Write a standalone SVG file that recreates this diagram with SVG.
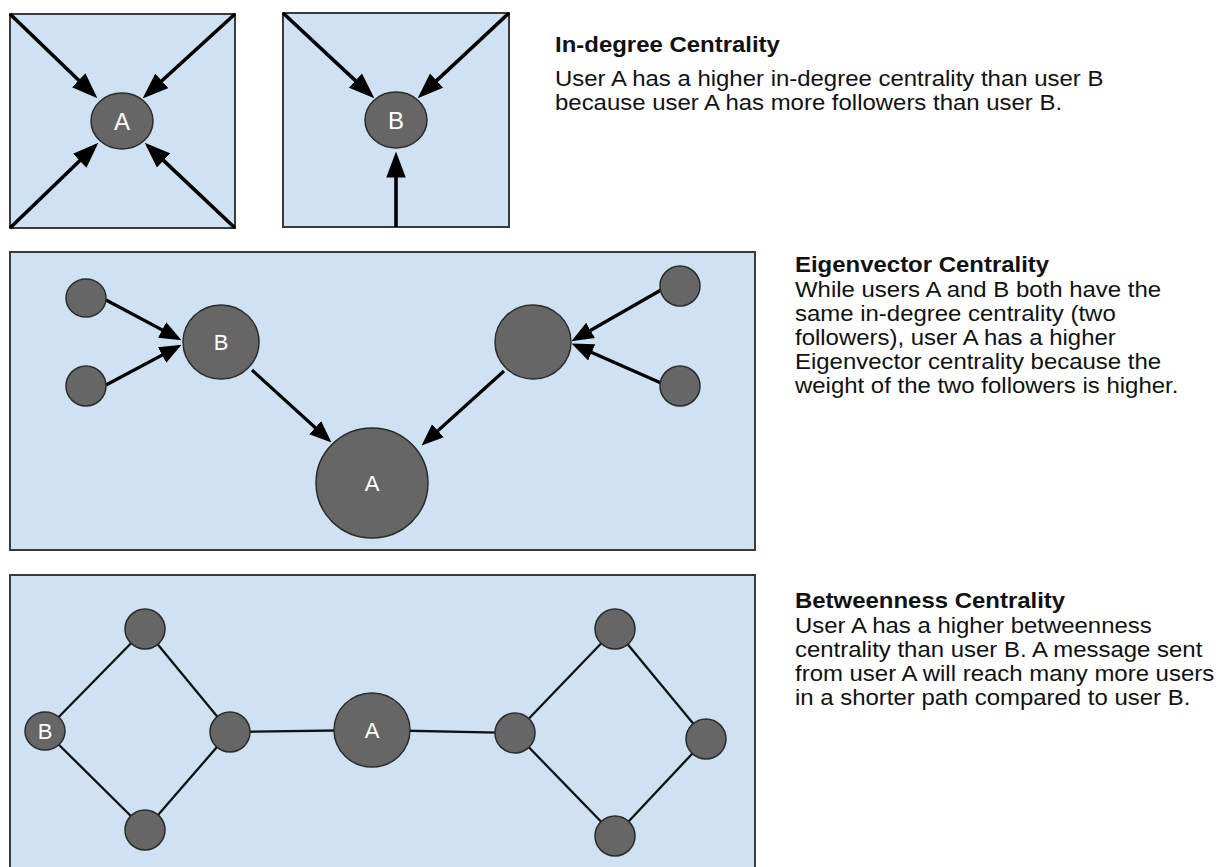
<svg xmlns="http://www.w3.org/2000/svg" width="1228" height="867" viewBox="0 0 1228 867">
<style>
.bg{fill:#ffffff}
.box{fill:#cfe2f3;stroke:#3a3a3a;stroke-width:2}
.node{fill:#666666;stroke:#2b2b2b;stroke-width:1.5}
.lbl{fill:#ffffff;font-family:"Liberation Sans",Arial,sans-serif;font-size:22px;text-anchor:middle;dominant-baseline:central}
.big{font-size:24px}
.arr{stroke:#000;stroke-width:3.2;fill:none;marker-end:url(#ah)}
.arrL{stroke:#000;stroke-width:3.6;fill:none;marker-end:url(#ahL)}
.edge{stroke:#111;stroke-width:2.3;fill:none}
.t{font-family:"Liberation Sans",Arial,sans-serif;font-size:21.2px;fill:#111}
.h{font-weight:bold}
</style>
<defs>
<marker id="ah" markerUnits="userSpaceOnUse" markerWidth="22" markerHeight="18" viewBox="0 0 20 16" refX="14" refY="8" orient="auto">
<path d="M0,0 L20,8 L0,16 z" fill="#000"/>
</marker>
<marker id="ahL" markerUnits="userSpaceOnUse" markerWidth="26" markerHeight="20" viewBox="0 0 24 18" refX="18" refY="9" orient="auto">
<path d="M0,0 L24,9 L0,18 z" fill="#000"/>
</marker>
</defs>
<rect class="bg" x="0" y="0" width="1228" height="867"/>
<g id="frames">
<rect class="box" x="10" y="14" width="225" height="214"/>
<rect class="box" x="283" y="13" width="226" height="214"/>
<rect class="box" x="10" y="252" width="745" height="298"/>
<rect class="box" x="10" y="575" width="745" height="310"/>
</g>
<g id="connectors">
<line class="arrL" x1="10" y1="14" x2="92.7" y2="93.8"/>
<line class="arrL" x1="235" y1="14" x2="147.4" y2="94"/>
<line class="arrL" x1="10" y1="228" x2="93.7" y2="147.2"/>
<line class="arrL" x1="235" y1="228" x2="149.4" y2="147.1"/>
<line class="arrL" x1="283" y1="13" x2="369.6" y2="93.9"/>
<line class="arrL" x1="509" y1="13" x2="422.4" y2="93.9"/>
<line class="arrL" x1="396" y1="227" x2="396" y2="158"/>
<line class="arr" x1="106" y1="300" x2="175.7" y2="337.2"/>
<line class="arr" x1="106" y1="385" x2="175.7" y2="347.8"/>
<line class="arr" x1="252" y1="370" x2="326.6" y2="438"/>
<line class="arr" x1="504" y1="371" x2="426.5" y2="441"/>
<line class="arr" x1="661" y1="290" x2="577.2" y2="338"/>
<line class="arr" x1="661" y1="383" x2="577.6" y2="346.2"/>
<line class="edge" x1="45" y1="731" x2="145" y2="629"/>
<line class="edge" x1="45" y1="731" x2="145" y2="830"/>
<line class="edge" x1="145" y1="629" x2="230" y2="732"/>
<line class="edge" x1="145" y1="830" x2="230" y2="732"/>
<line class="edge" x1="230" y1="732" x2="372" y2="730"/>
<line class="edge" x1="372" y1="730" x2="515" y2="733"/>
<line class="edge" x1="515" y1="733" x2="615" y2="629"/>
<line class="edge" x1="515" y1="733" x2="615" y2="836"/>
<line class="edge" x1="615" y1="629" x2="706" y2="739"/>
<line class="edge" x1="615" y1="836" x2="706" y2="739"/>
</g>
<g id="indeg-a"><ellipse class="node" cx="122" cy="121" rx="31" ry="28"/><text class="lbl big" x="122" y="121">A</text></g>
<g id="indeg-b"><ellipse class="node" cx="396" cy="120" rx="31" ry="28"/><text class="lbl big" x="396" y="120">B</text></g>
<g id="eig-f1"><ellipse class="node" cx="86" cy="298" rx="20" ry="19"/></g>
<g id="eig-f2"><ellipse class="node" cx="86" cy="386" rx="20" ry="20"/></g>
<g id="eig-b"><ellipse class="node" cx="221" cy="342" rx="38" ry="37"/><text class="lbl" x="221" y="342">B</text></g>
<g id="eig-a"><ellipse class="node" cx="372" cy="483" rx="56" ry="55"/><text class="lbl" x="372" y="483">A</text></g>
<g id="eig-c"><ellipse class="node" cx="533" cy="342" rx="38" ry="37"/></g>
<g id="eig-f3"><ellipse class="node" cx="680" cy="286" rx="20" ry="20"/></g>
<g id="eig-f4"><ellipse class="node" cx="680" cy="386" rx="20" ry="20"/></g>
<g id="bt-b"><ellipse class="node" cx="45" cy="731" rx="20" ry="19"/><text class="lbl" x="45" y="731">B</text></g>
<g id="bt-tl"><ellipse class="node" cx="145" cy="629" rx="20" ry="20"/></g>
<g id="bt-bl"><ellipse class="node" cx="145" cy="830" rx="20" ry="20"/></g>
<g id="bt-ml"><ellipse class="node" cx="230" cy="732" rx="20" ry="20"/></g>
<g id="bt-a"><ellipse class="node" cx="372" cy="730" rx="38" ry="37"/><text class="lbl" x="372" y="730">A</text></g>
<g id="bt-mr"><ellipse class="node" cx="515" cy="733" rx="20" ry="20"/></g>
<g id="bt-tr"><ellipse class="node" cx="615" cy="629" rx="20" ry="20"/></g>
<g id="bt-r"><ellipse class="node" cx="706" cy="739" rx="20" ry="20"/></g>
<g id="bt-br"><ellipse class="node" cx="615" cy="836" rx="20" ry="20"/></g>
<g id="text-indeg" transform="translate(555,0) scale(1.13,1)">
<text class="t h" x="0" y="52">In-degree Centrality</text>
<text class="t" x="0" y="86">User A has a higher in-degree centrality than user B</text>
<text class="t" x="0" y="110">because user A has more followers than user B.</text>
</g>
<g id="text-eig" transform="translate(795,0) scale(1.13,1)">
<text class="t h" x="0" y="272">Eigenvector Centrality</text>
<text class="t" x="0" y="297">While users A and B both have the</text>
<text class="t" x="0" y="321">same in-degree centrality (two</text>
<text class="t" x="0" y="345">followers), user A has a higher</text>
<text class="t" x="0" y="369">Eigenvector centrality because the</text>
<text class="t" x="0" y="393">weight of the two followers is higher.</text>
</g>
<g id="text-bt" transform="translate(795,0) scale(1.13,1)">
<text class="t h" x="0" y="608">Betweenness Centrality</text>
<text class="t" x="0" y="633">User A has a higher betweenness</text>
<text class="t" x="0" y="657">centrality than user B. A message sent</text>
<text class="t" x="0" y="681">from user A will reach many more users</text>
<text class="t" x="0" y="705">in a shorter path compared to user B.</text>
</g>
</svg>
